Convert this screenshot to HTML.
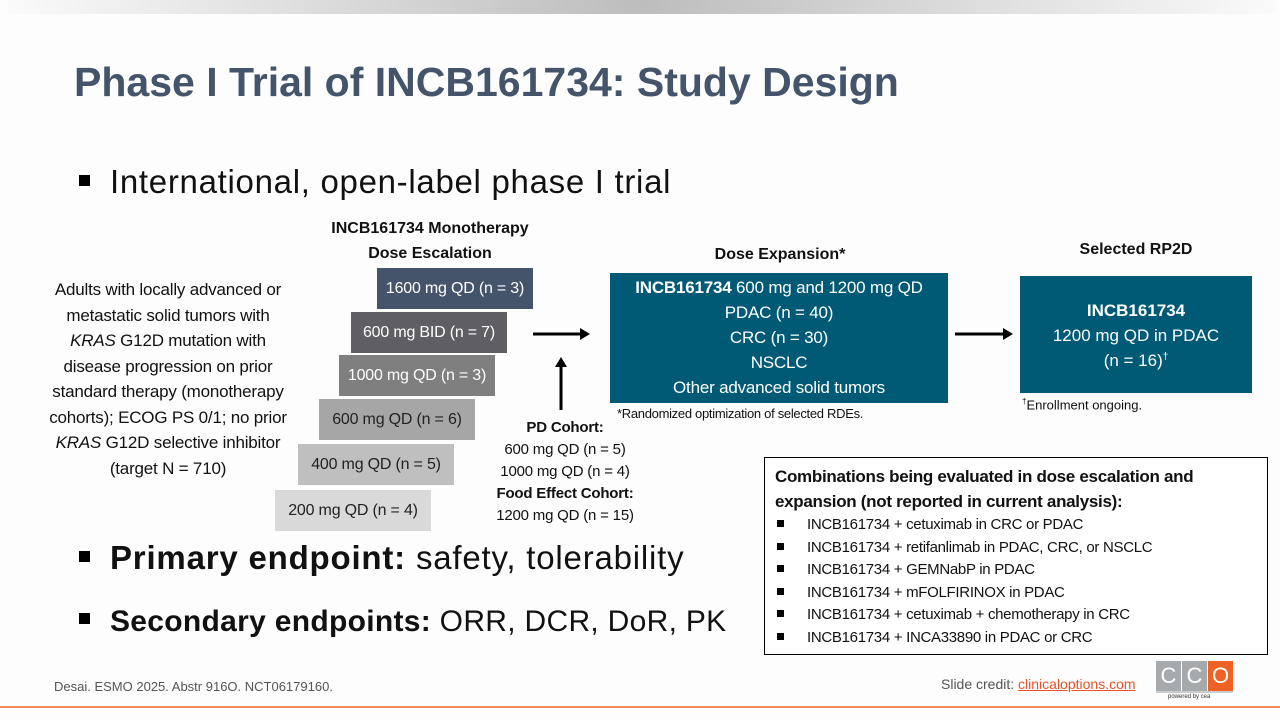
<!DOCTYPE html>
<html><head><meta charset="utf-8"><style>
*{margin:0;padding:0;box-sizing:border-box}
body{width:1280px;height:720px;background:#fdfdfd;position:relative;overflow:hidden;font-family:"Liberation Sans",sans-serif;color:#111}
.a{position:absolute}
.g{position:absolute;height:41px;font-size:16px;display:flex;align-items:center;justify-content:center;white-space:nowrap;letter-spacing:-0.2px}
.c{text-align:center}
ul{list-style:none}
li{height:22.5px;line-height:22.5px;white-space:nowrap}
.sq{display:inline-block;width:7px;height:7px;background:#000;margin-right:23px;vertical-align:2px;margin-left:2px}
.bs{display:inline-block;width:11px;height:11px;background:#000;margin-right:20px;vertical-align:7px}
</style></head><body>
<div class="a" style="left:8px;top:0;width:1268px;height:14px;background:linear-gradient(90deg,#fafafa,#bdbdbd 50%,#fafafa)"></div>
<div class="a" style="left:74px;top:59px;font-size:41px;font-weight:bold;color:#44546a;letter-spacing:0px">Phase I Trial of INCB161734: Study Design</div>
<div class="a" style="left:79px;top:163px;font-size:33px;letter-spacing:0.7px"><span class="bs"></span>International, open-label phase I trial</div>
<div class="a c" style="left:0;top:277px;width:336px;font-size:17px;line-height:25.5px;letter-spacing:-0.2px">Adults with locally advanced or<br>metastatic solid tumors with<br><i>KRAS</i> G12D mutation with<br>disease progression on prior<br>standard therapy (monotherapy<br>cohorts); ECOG PS 0/1; no prior<br><i>KRAS</i> G12D selective inhibitor<br>(target N = 710)</div>
<div class="a c" style="left:290px;top:216px;width:280px;font-size:16px;font-weight:bold;line-height:25px">INCB161734 Monotherapy<br>Dose Escalation</div>
<div class="g" style="left:377px;top:268px;width:156px;background:#44546a;color:#fff">1600 mg QD (n = 3)</div>
<div class="g" style="left:351px;top:312px;width:156px;background:#5f5f63;color:#fff">600 mg BID (n = 7)</div>
<div class="g" style="left:339px;top:355px;width:156px;background:#7f7f7f;color:#fff">1000 mg QD (n = 3)</div>
<div class="g" style="left:319px;top:399px;width:156px;background:#a6a6a6;color:#222">600 mg QD (n = 6)</div>
<div class="g" style="left:298px;top:444px;width:156px;background:#bfbfbf;color:#222">400 mg QD (n = 5)</div>
<div class="g" style="left:275px;top:490px;width:156px;background:#d9d9d9;color:#222">200 mg QD (n = 4)</div>
<svg class="a" style="left:0;top:0" width="1280" height="720">
<line x1="533" y1="334" x2="582" y2="334" stroke="#000" stroke-width="3"/><polygon points="580,328 590,334 580,340"/>
<line x1="561" y1="410" x2="561" y2="365" stroke="#000" stroke-width="3"/><polygon points="555,367 561,357 567,367"/>
<line x1="955" y1="334" x2="1005" y2="334" stroke="#000" stroke-width="3"/><polygon points="1003,328 1013,334 1003,340"/>
</svg>
<div class="a c" style="left:480px;top:417px;width:170px;font-size:15px;line-height:22px;letter-spacing:-0.2px"><b>PD Cohort:</b><br>600 mg QD (n = 5)<br>1000 mg QD (n = 4)<br><b>Food Effect Cohort:</b><br>1200 mg QD (n = 15)</div>
<div class="a c" style="left:610px;top:246px;width:340px;font-size:16px;font-weight:bold">Dose Expansion*</div>
<div class="a c" style="left:610px;top:273px;width:338px;height:130px;background:#005a75;color:#fff;font-size:17px;line-height:25px;padding-top:2px;letter-spacing:-0.2px"><b>INCB161734</b> 600 mg and 1200 mg QD<br>PDAC (n = 40)<br>CRC (n = 30)<br>NSCLC<br>Other advanced solid tumors</div>
<div class="a" style="left:617px;top:406px;font-size:13px;letter-spacing:-0.3px">*Randomized optimization of selected RDEs.</div>
<div class="a c" style="left:1020px;top:241px;width:232px;font-size:16px;font-weight:bold">Selected RP2D</div>
<div class="a c" style="left:1020px;top:276px;width:232px;height:117px;background:#005a75;color:#fff;font-size:17px;line-height:25px;padding-top:22px"><b>INCB161734</b><br>1200 mg QD in PDAC<br>(n = 16)<sup style="font-size:10px;line-height:0">†</sup></div>
<div class="a" style="left:1022px;top:397px;font-size:13px"><sup style="font-size:8px">†</sup>Enrollment ongoing.</div>
<div class="a" style="left:764px;top:457px;width:504px;height:198px;border:1.5px solid #000;background:#fff;padding:6px 10px;font-size:15px;letter-spacing:-0.3px">
<div style="font-weight:bold;font-size:17px;line-height:25px">Combinations being evaluated in dose escalation and expansion (not reported in current analysis):</div>
<ul style="margin-top:0">
<li><span class="sq"></span>INCB161734 + cetuximab in CRC or PDAC</li>
<li><span class="sq"></span>INCB161734 + retifanlimab in PDAC, CRC, or NSCLC</li>
<li><span class="sq"></span>INCB161734 + GEMNabP in PDAC</li>
<li><span class="sq"></span>INCB161734 + mFOLFIRINOX in PDAC</li>
<li><span class="sq"></span>INCB161734 + cetuximab + chemotherapy in CRC</li>
<li><span class="sq"></span>INCB161734 + INCA33890 in PDAC or CRC</li>
</ul></div>
<div class="a" style="left:79px;top:539px;font-size:33px;letter-spacing:0.8px"><span class="bs"></span><b>Primary endpoint:</b> safety, tolerability</div>
<div class="a" style="left:79px;top:605px;font-size:30px;letter-spacing:0.3px"><span class="bs"></span><b>Secondary endpoints:</b> ORR, DCR, DoR, PK</div>
<div class="a" style="left:54px;top:679px;font-size:13px;color:#555">Desai. ESMO 2025. Abstr 916O. NCT06179160.</div>
<div class="a" style="left:941px;top:676px;font-size:14px;color:#555">Slide credit: <span style="color:#e8532a;text-decoration:underline">clinicaloptions.com</span></div>
<div class="a" style="left:1156px;top:661px;width:77px;height:30px;display:flex;gap:1px">
<div style="flex:1;background:#a7aaac;color:#fff;font-size:22px;text-align:center;line-height:30px">C</div>
<div style="flex:1;background:#a7aaac;color:#fff;font-size:22px;text-align:center;line-height:30px">C</div>
<div style="flex:1;background:#ef6125;color:#fff;font-size:22px;text-align:center;line-height:30px">O</div></div>
<div class="a" style="left:1156px;top:691px;width:77px;height:2px;background:#ccc"></div>
<div class="a" style="left:1168px;top:694px;font-size:6px;color:#333">powered by cea</div>
<div class="a" style="left:0;top:706px;width:1280px;height:2px;background:#f08a5d"></div>
</body></html>
